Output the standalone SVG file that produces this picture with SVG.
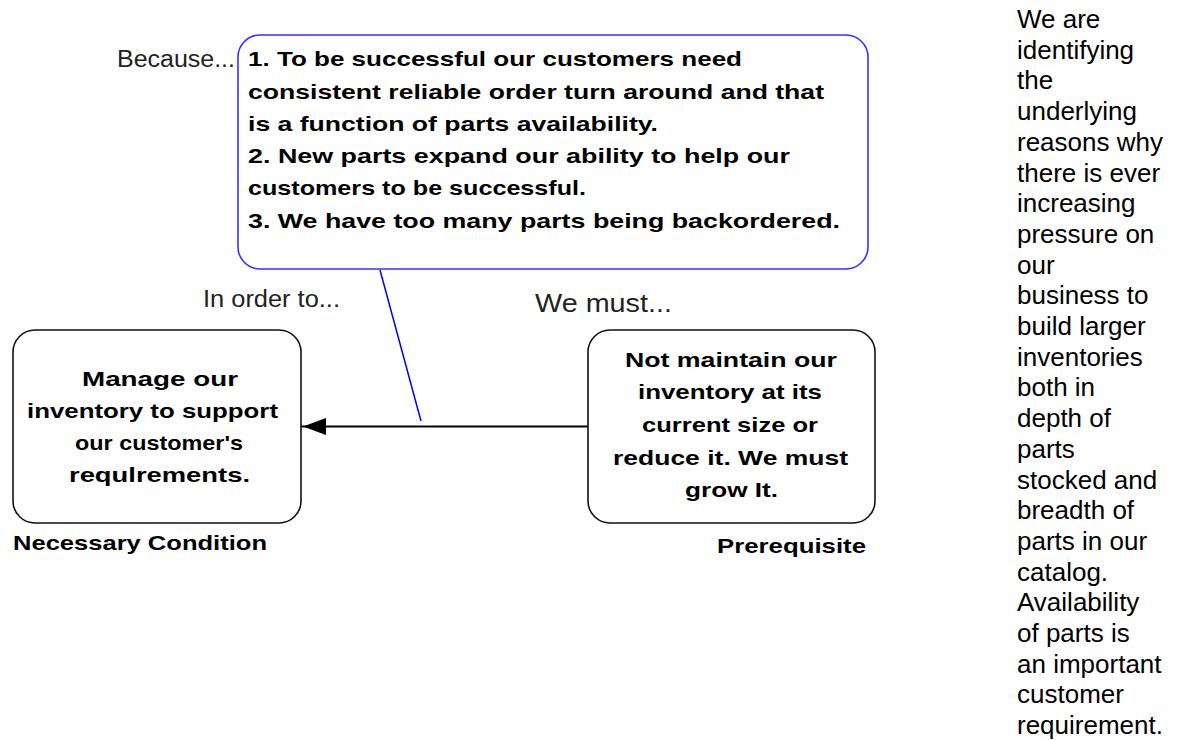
<svg xmlns="http://www.w3.org/2000/svg" width="1181" height="740" viewBox="0 0 1181 740">
<style>
.b{font-family:"Liberation Sans",Arial,sans-serif;font-weight:bold;font-size:21px;fill:#000}
.l{font-family:"Liberation Sans",Arial,sans-serif;font-size:23px;fill:#222}
.r{font-family:"Liberation Sans",Arial,sans-serif;font-size:26px;fill:#000}
.box{fill:#fff;stroke:#111;stroke-width:1.6}
</style>
<rect width="1181" height="740" fill="#fff"/>
<g id="connectors">
<line x1="588" y1="426.5" x2="301" y2="426.5" stroke="#000" stroke-width="2"/>
<path d="M326,418 L303,426.5 L326,435 z" fill="#000"/>
<line x1="380" y1="270" x2="421" y2="421" stroke="#00f" stroke-width="1.5"/>
</g>
<g id="because">
<text class="l" x="117" y="67" textLength="118" lengthAdjust="spacingAndGlyphs">Because...</text>
<rect x="238" y="35" width="630" height="234" rx="22" fill="#fff" stroke="#33f" stroke-width="1.6"/>
<text class="b" x="248" y="66" textLength="494" lengthAdjust="spacingAndGlyphs">1. To be successful our customers need</text>
<text class="b" x="248" y="99" textLength="576" lengthAdjust="spacingAndGlyphs">consistent reliable order turn around and that</text>
<text class="b" x="248" y="131" textLength="410" lengthAdjust="spacingAndGlyphs">is a function of parts availability.</text>
<text class="b" x="248" y="163" textLength="542" lengthAdjust="spacingAndGlyphs">2. New parts expand our ability to help our</text>
<text class="b" x="248" y="195" textLength="338" lengthAdjust="spacingAndGlyphs">customers to be successful.</text>
<text class="b" x="248" y="228" textLength="592" lengthAdjust="spacingAndGlyphs">3. We have too many parts being backordered.</text>
</g>
<g id="necessary">
<text class="l" x="203" y="307" textLength="137" lengthAdjust="spacingAndGlyphs">In order to...</text>
<rect class="box" x="13" y="330" width="288" height="193" rx="22"/>
<text class="b" x="82" y="386" textLength="156" lengthAdjust="spacingAndGlyphs">Manage our</text>
<text class="b" x="27" y="418" textLength="251" lengthAdjust="spacingAndGlyphs">inventory to support</text>
<text class="b" x="75" y="450" textLength="168" lengthAdjust="spacingAndGlyphs">our customer's</text>
<text class="b" x="69" y="482" textLength="181" lengthAdjust="spacingAndGlyphs">requlrements.</text>
<text class="b" x="13" y="550" textLength="254" lengthAdjust="spacingAndGlyphs">Necessary Condition</text>
</g>
<g id="prerequisite">
<text class="l" x="535" y="312" style="font-size:26px" textLength="137" lengthAdjust="spacingAndGlyphs">We must...</text>
<rect class="box" x="588" y="330" width="287" height="193" rx="22"/>
<text class="b" x="625" y="367" textLength="212" lengthAdjust="spacingAndGlyphs">Not maintain our</text>
<text class="b" x="638" y="399" textLength="184" lengthAdjust="spacingAndGlyphs">inventory at its</text>
<text class="b" x="642" y="432" textLength="176" lengthAdjust="spacingAndGlyphs">current size or</text>
<text class="b" x="613" y="465" textLength="235" lengthAdjust="spacingAndGlyphs">reduce it. We must</text>
<text class="b" x="685" y="497" textLength="93" lengthAdjust="spacingAndGlyphs">grow It.</text>
<text class="b" x="717" y="553" textLength="149" lengthAdjust="spacingAndGlyphs">Prerequisite</text>
</g>
<g id="note" class="r">
<text x="1017" y="28">We are</text>
<text x="1017" y="58.7">identifying</text>
<text x="1017" y="89.4">the</text>
<text x="1017" y="120.1">underlying</text>
<text x="1017" y="150.8">reasons why</text>
<text x="1017" y="181.5">there is ever</text>
<text x="1017" y="212.2">increasing</text>
<text x="1017" y="242.9">pressure on</text>
<text x="1017" y="273.6">our</text>
<text x="1017" y="304.3">business to</text>
<text x="1017" y="335">build larger</text>
<text x="1017" y="365.7">inventories</text>
<text x="1017" y="396.4">both in</text>
<text x="1017" y="427.1">depth of</text>
<text x="1017" y="457.8">parts</text>
<text x="1017" y="488.5">stocked and</text>
<text x="1017" y="519.2">breadth of</text>
<text x="1017" y="549.9">parts in our</text>
<text x="1017" y="580.6">catalog.</text>
<text x="1017" y="611.3">Availability</text>
<text x="1017" y="642">of parts is</text>
<text x="1017" y="672.7">an important</text>
<text x="1017" y="703.4">customer</text>
<text x="1017" y="734.1">requirement.</text>
</g>
</svg>
